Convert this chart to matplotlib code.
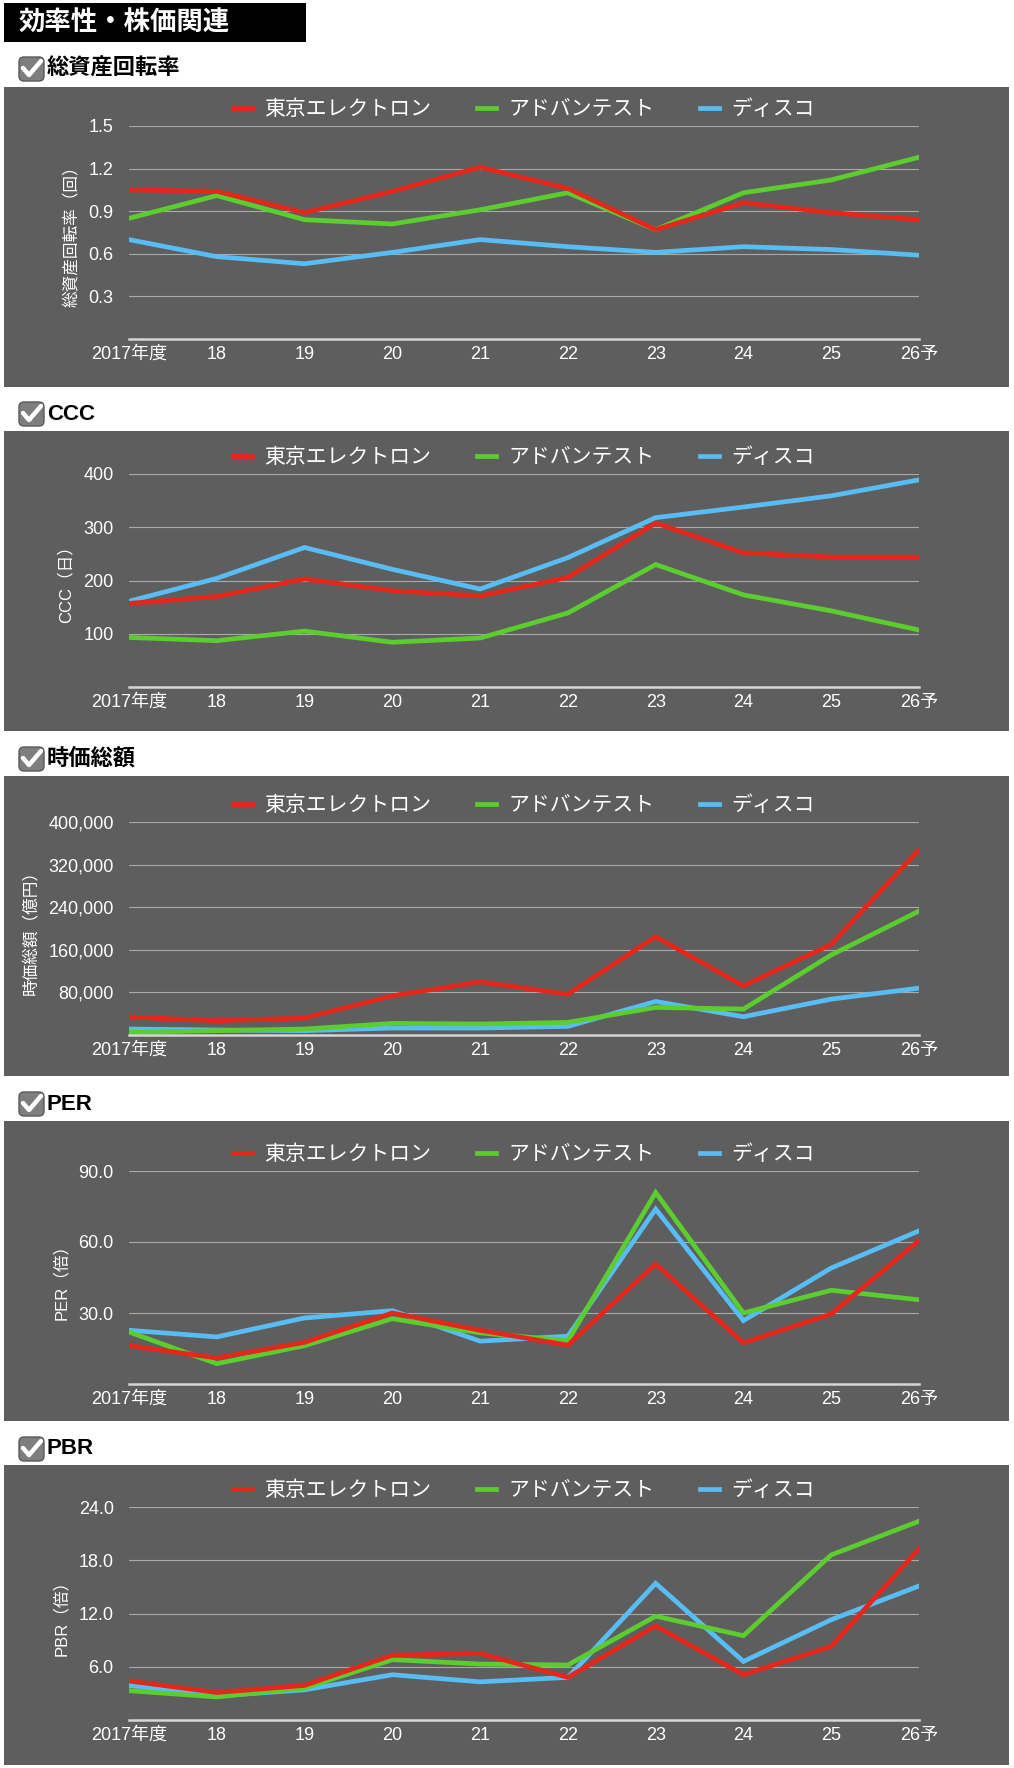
import matplotlib.pyplot as plt
from matplotlib.patches import Rectangle, FancyBboxPatch
from matplotlib.ticker import FuncFormatter

plt.rcParams['font.family'] = ['Liberation Sans', 'Noto Sans CJK JP', 'DejaVu Sans']

# ---- data ----
years = ['2017年度', '18', '19', '20', '21', '22', '23', '24', '25', '26予']
companies = ['東京エレクトロン', 'アドバンテスト', 'ディスコ']
colors = ['#e5271b', '#5ccd2f', '#58bdf5']

turnover_tel = [1.05, 1.04, 0.89, 1.04, 1.21, 1.06, 0.77, 0.96, 0.89, 0.84]
turnover_adv = [0.85, 1.01, 0.84, 0.81, 0.91, 1.03, 0.77, 1.03, 1.12, 1.28]
turnover_disco = [0.70, 0.58, 0.53, 0.61, 0.70, 0.65, 0.61, 0.65, 0.63, 0.59]

ccc_tel = [157, 170, 203, 181, 171, 206, 308, 252, 244, 244]
ccc_adv = [93, 87, 105, 84, 92, 139, 230, 173, 143, 107]
ccc_disco = [161, 204, 262, 221, 184, 243, 318, 338, 359, 389]

mcap_tel = [33700, 26800, 31800, 73600, 99800, 76700, 184600, 92300, 170300, 348000]
mcap_adv = [5000, 8100, 11200, 21800, 20600, 23700, 51800, 48700, 150300, 232700]
mcap_disco = [11200, 9400, 8100, 13100, 13100, 16200, 63000, 34300, 67400, 88000]

per_tel = [16.2, 11.0, 17.6, 30.0, 22.7, 16.4, 50.7, 17.4, 29.6, 60.6]
per_adv = [22.0, 8.6, 16.2, 27.6, 21.6, 18.3, 80.9, 30.0, 39.6, 35.6]
per_disco = [22.7, 19.9, 27.9, 31.0, 18.1, 20.2, 73.9, 26.8, 49.0, 64.7]

pbr_tel = [4.4, 3.1, 3.9, 7.3, 7.5, 4.8, 10.6, 5.1, 8.3, 19.3]
pbr_adv = [3.3, 2.6, 3.6, 6.8, 6.3, 6.2, 11.7, 9.5, 18.6, 22.4]
pbr_disco = [3.9, 2.7, 3.4, 5.1, 4.3, 4.8, 15.4, 6.6, 11.3, 15.1]

section_titles = ['総資産回転率', 'CCC', '時価総額', 'PER', 'PBR']
ylabels = ['総資産回転率（回）', 'CCC（日）', '時価総額（億円）', 'PER（倍）', 'PBR（倍）']
yticks = [[0.3, 0.6, 0.9, 1.2, 1.5],
          [100, 200, 300, 400],
          [80000, 160000, 240000, 320000, 400000],
          [30, 60, 90],
          [6, 12, 18, 24]]
series = [[turnover_tel, turnover_adv, turnover_disco],
          [ccc_tel, ccc_adv, ccc_disco],
          [mcap_tel, mcap_adv, mcap_disco],
          [per_tel, per_adv, per_disco],
          [pbr_tel, pbr_adv, pbr_disco]]
formats = ['{:.1f}', '{:.0f}', '{:,.0f}', '{:.1f}', '{:.1f}']

# ---- layout (pixels) ----
W, H = 1014, 1768
panel_top = [87, 431, 776, 1121, 1465]
head_y = [68, 413, 758, 1103, 1448]
grid_top = [126, 474, 822, 1171, 1507]
plot_h = 213
plot_l, plot_r = 129, 919

fig = plt.figure(figsize=(W / 100, H / 100), dpi=100)
fig.patch.set_facecolor('white')

# background layer in pixel coords
bg = fig.add_axes([0, 0, 1, 1], zorder=-1)
bg.set_xlim(0, W)
bg.set_ylim(H, 0)
bg.axis('off')

# page title
bg.add_patch(Rectangle((4, 3), 302, 39, facecolor='black', edgecolor='none'))
bg.text(19, 23, '効率性・株価関連', color='white', fontsize=19, fontweight='bold',
        va='center', ha='left')

for i in range(5):
    # grey panel
    bg.add_patch(Rectangle((4, panel_top[i]), 1005, 300, facecolor='#5e5e5e',
                           edgecolor='none'))
    # check icon
    hy = head_y[i] + 1
    bg.add_patch(FancyBboxPatch((19, hy - 12), 25, 24, boxstyle='round,pad=0,rounding_size=5',
                                facecolor='#7e7e7e', edgecolor='#5a5a5a', linewidth=1))
    bg.plot([23, 29, 41], [hy - 1, hy + 6, hy - 8], color='white', lw=3.2,
            solid_capstyle='round', solid_joinstyle='round')
    bg.text(47, hy, section_titles[i], color='black', fontsize=16, fontweight='bold',
            va='center', ha='left')

    # chart
    top = grid_top[i]
    ax = fig.add_axes([plot_l / W, 1 - (top + plot_h) / H,
                       (plot_r - plot_l) / W, plot_h / H])
    ax.set_facecolor('none')
    x = list(range(len(years)))
    lines = []
    for j in [2, 1, 0]:
        ln, = ax.plot(x, series[i][j], color=colors[j], lw=3.4,
                      solid_joinstyle='miter', label=companies[j])
        lines.append(ln)
    ax.set_xlim(0, len(years) - 1)
    ax.set_ylim(0, yticks[i][-1])
    ax.set_yticks(yticks[i])
    fmt = formats[i]
    ax.yaxis.set_major_formatter(FuncFormatter(lambda v, p, f=fmt: f.format(v)))
    ax.set_xticks(x)
    ax.set_xticklabels(years)
    ax.grid(axis='y', color='#a9a9a9', lw=0.8)
    ax.set_axisbelow(True)
    for s in ['top', 'right', 'left']:
        ax.spines[s].set_visible(False)
    ax.spines['bottom'].set_color('#d6d6d6')
    ax.spines['bottom'].set_linewidth(1.8)
    ax.tick_params(axis='both', length=0, labelcolor='white', labelsize=13)
    ax.tick_params(axis='y', pad=11)
    ax.tick_params(axis='x', pad=5)
    ax.set_ylabel(ylabels[i], color='white', fontsize=12, labelpad=7)
    leg = ax.legend(handles=lines[::-1], loc='center', bbox_to_anchor=(0.5, 1 + 17 / plot_h),
                    ncol=3, frameon=False, fontsize=15, handlelength=0.9,
                    handletextpad=0.6, columnspacing=2.2, borderpad=0)
    for t in leg.get_texts():
        t.set_color('white')
    for h in leg.get_lines():
        h.set_linewidth(3.4)

fig.savefig('out.png', dpi=100, facecolor='white')
